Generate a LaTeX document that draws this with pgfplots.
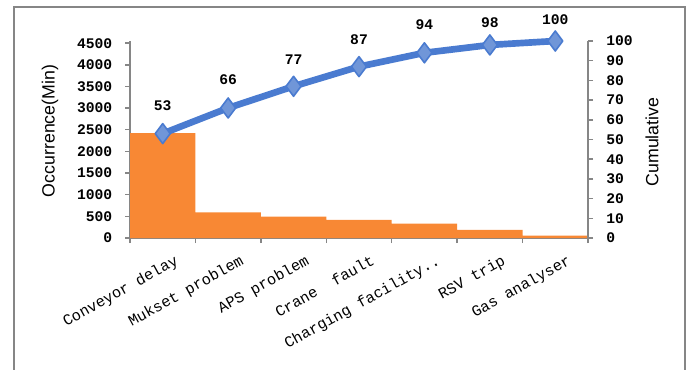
\documentclass[border=0pt]{standalone}
\usepackage{fontspec}
\usepackage{pgfplots}
\pgfplotsset{compat=1.18}
\setmainfont{Liberation Serif}
\newfontfamily\labelfont{Liberation Sans}
\newfontfamily\monofont{Liberation Mono}

\definecolor{barorange}{RGB}{248,136,52}
\definecolor{lineblue}{RGB}{74,123,208}
\definecolor{markblue}{RGB}{112,150,216}
\definecolor{axisgray}{RGB}{134,134,134}

% downtime per cause (minutes)
\pgfplotstableread{
x   occ
0.5 2420
1.5 590
2.5 495
3.5 420
4.5 330
5.5 190
6.5 55
}\occtable

% cumulative share (%) and label lift (pt)
\pgfplotstableread{
x   cum off
0.5 53  21
1.5 66  21
2.5 77  20
3.5 87  20
4.5 94  21
5.5 98  17
6.5 100 16
}\cumtable

\pgfplotsset{
  paretobase/.style={
    at={(97.5pt,98.25pt)}, anchor=south west,
    scale only axis, width=343.5pt, height=147.75pt,
    xmin=0, xmax=7,
    tick align=outside,
    major tick length=3.75pt,
    tick style={axisgray, line width=1.1pt},
    axis line style={axisgray, line width=1.4pt, -},
    tick label style={font=\monofont\bfseries\fontsize{11}{12}\selectfont},
    /pgf/number format/assume math mode=true,
    /pgf/number format/1000 sep={},
  },
}

\begin{document}
\begin{tikzpicture}
\path[use as bounding box] (0,0) rectangle (518.25pt,276.75pt);
\draw[axisgray, line width=1.5pt] (10.5pt,-10pt) -- (10.5pt,271.5pt) -- (513.75pt,271.5pt) -- (513.75pt,-10pt);

\begin{axis}[
  paretobase,
  ymin=0, ymax=4550,
  axis y line*=left, axis x line*=bottom,
  ytick={0,500,...,4500},
  yticklabel shift=6pt,
  xtick={0,1,...,7},
  x tick label as interval,
  xticklabels={Conveyor delay,Mukset problem,APS problem,Crane\ \ fault,Charging facility..,RSV trip,Gas analyser},
  x tick label style={font=\monofont\fontsize{11.5}{12}\selectfont, rotate=29, anchor=north east, xshift=11pt},
  xticklabel shift=9pt,
  ylabel={Occurrence(Min)},
  every axis y label/.style={at={(rel axis cs:-0.1747,0.543)}, rotate=90, anchor=center,
    font=\labelfont\fontsize{13.3}{15}\selectfont},
]
\addplot[ybar, bar width=1, fill=barorange, draw=none] table[x=x, y=occ] {\occtable};
\end{axis}

\begin{axis}[
  paretobase,
  ymin=0, ymax=100,
  axis y line*=right, axis x line=none,
  ytick={0,10,...,100},
  yticklabel shift=6.5pt,
  clip=false,
  ylabel={Cumulative},
  every axis y label/.style={at={(rel axis cs:1.1397,0.487)}, rotate=90, anchor=center,
    font=\labelfont\fontsize{13.3}{15}\selectfont},
]
\addplot[lineblue, line width=5pt, line join=round,
  mark=diamond*, mark size=7.5pt,
  mark options={fill=markblue, draw=lineblue, line width=1.2pt},
  visualization depends on={\thisrow{off} \as \labeloff},
  nodes near coords,
  every node near coord/.append style={anchor=center, yshift=\labeloff pt, text=black,
    font=\monofont\bfseries\fontsize{11}{12}\selectfont},
] table[x=x, y=cum] {\cumtable};
\end{axis}
\end{tikzpicture}
\end{document}
